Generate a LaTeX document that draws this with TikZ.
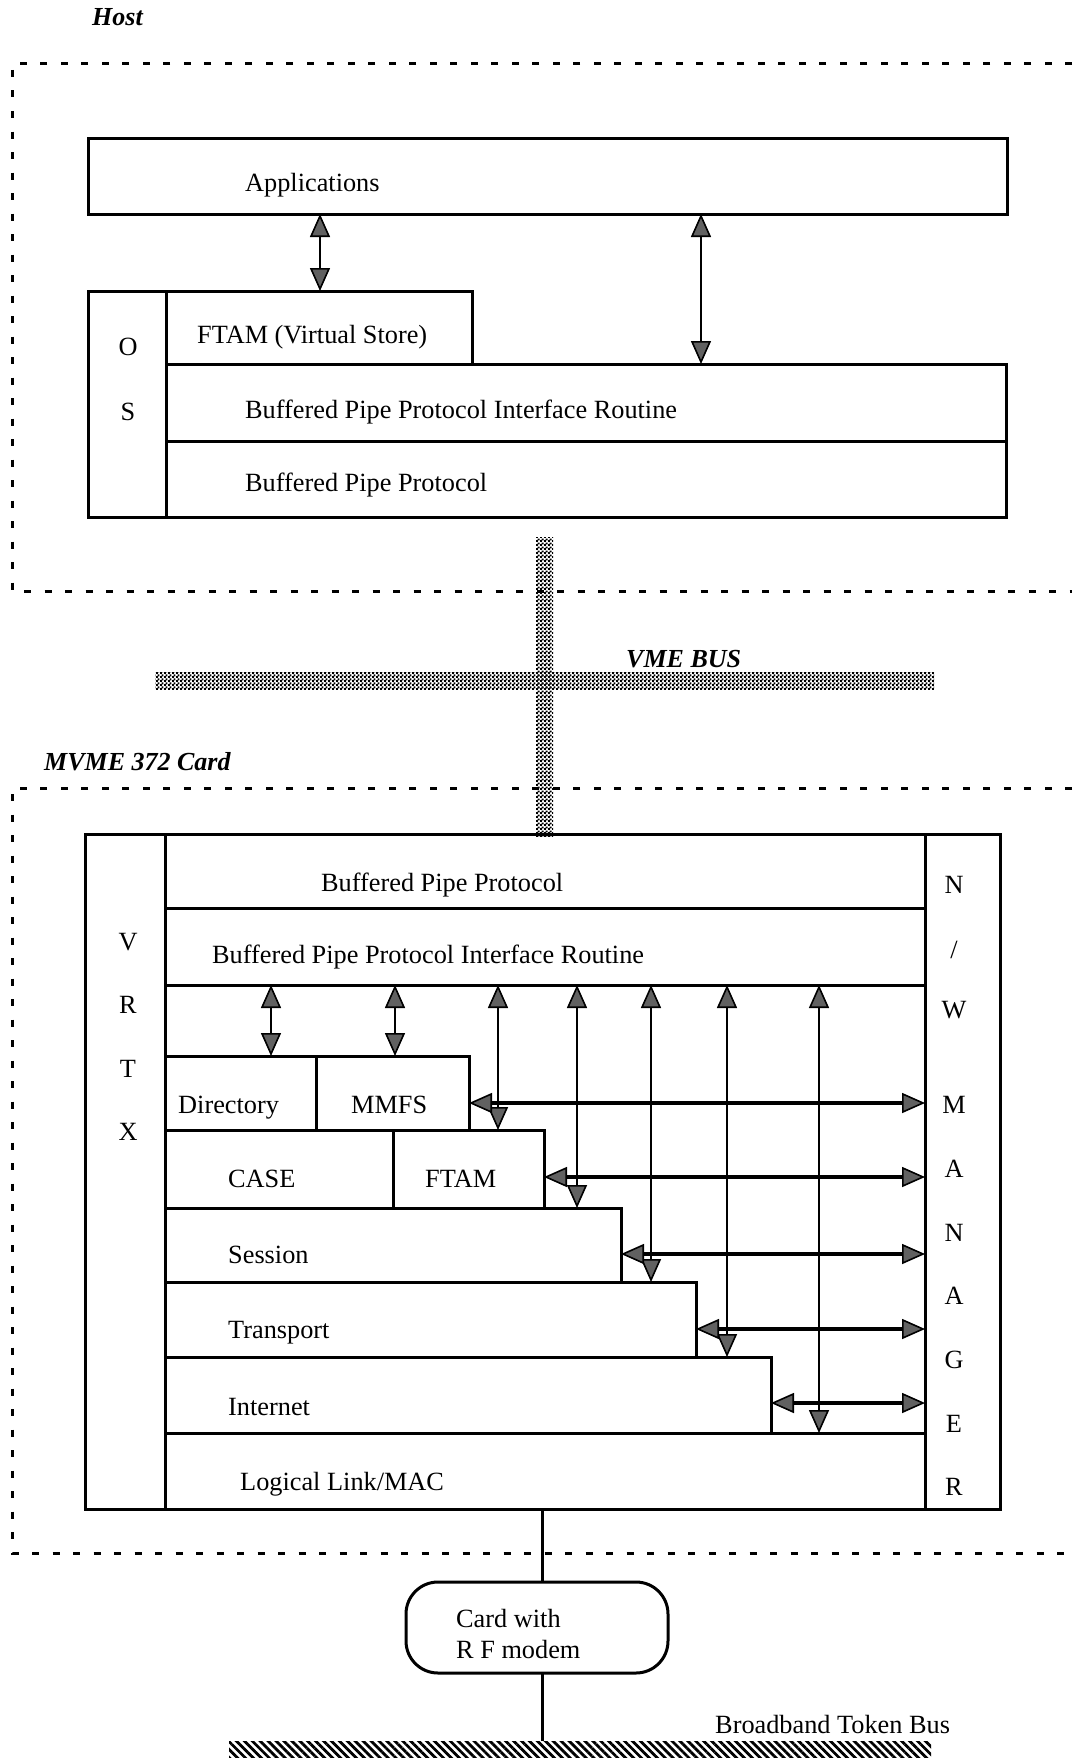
\documentclass[tikz,border=0pt]{standalone}
\usepackage{fontspec}
\setmainfont{Liberation Serif}
\usetikzlibrary{arrows.meta,patterns,patterns.meta}

% fine checkerboard used for the VME bus bars
\pgfdeclarepatternformonly{fineCheck}{\pgfqpoint{0pt}{0pt}}{\pgfqpoint{4pt}{4pt}}{\pgfqpoint{4pt}{4pt}}{%
  \pgfpathrectangle{\pgfqpoint{0pt}{0pt}}{\pgfqpoint{2.2pt}{2.2pt}}%
  \pgfpathrectangle{\pgfqpoint{2pt}{2pt}}{\pgfqpoint{2.2pt}{2.2pt}}%
  \pgfusepath{fill}}

% a layer box given by its corners (x1,y1) and (x2,y2)
\newcommand\layerbox[5]{\node[box, minimum width={#4-#2}, minimum height={#5-#3}] (#1) at (#2,#3) {};}

\tikzset{
  box/.style={draw, line width=3pt, inner sep=0pt, outer sep=0pt, anchor=north west},
  lbl/.style={anchor=base west, inner sep=0pt},
  ltr/.style={anchor=base, inner sep=0pt},
  ttl/.style={anchor=base west, inner sep=0pt, font=\fontsize{26}{31}\selectfont\bfseries\itshape},
  zone/.style={line width=3pt, dash pattern=on 7pt off 13.5pt},
  headtip/.tip={Triangle[length=23pt, width=20pt, fill=black!62, line width=1.6pt]},
  dbl/.style={line width=2.2pt, headtip-headtip},
  dblh/.style={dbl, line width=3.2pt},
  vmebar/.style={inner sep=0pt, outer sep=0pt, anchor=north west, pattern=fineCheck, pattern color=black},
  hatchbar/.style={inner sep=0pt, outer sep=0pt, anchor=north west, pattern={Lines[angle=-45, distance=5.6pt, line width=2.8pt]}},
  link/.style={line width=3pt},
}

\begin{document}
\begin{tikzpicture}[x=1pt, y=-1pt, font=\fontsize{26.3}{31}\selectfont]
\useasboundingbox (0,0) rectangle (1072,1758);

% ---------- host ----------
\node[ttl] (thost) at (92,26) {Host};
\draw[zone] (1072,64) -- (12,64) -- (12,591) -- (1072,591);

\layerbox{apps}{88}{139}{1007}{214}
\layerbox{os}{88}{291}{166}{517}
\layerbox{hftam}{166}{291}{472}{364}
\layerbox{hbppir}{166}{364}{1006}{441}
\layerbox{hbpp}{166}{441}{1006}{517}

\node[lbl] (tapps) at (245,191) {Applications};
\node[ltr] (tos1) at (128,355) {O};
\node[ltr] (tos2) at (128,420) {S};
\node[lbl] (thftam) at (197,343) {FTAM (Virtual Store)};
\node[lbl] (thbppir) at (245,418) {Buffered Pipe Protocol Interface Routine};
\node[lbl] (thbpp) at (245,491) {Buffered Pipe Protocol};

\coordinate (ha) at (320,0);
\coordinate (hb) at (701,0);
\draw[dbl] (ha |- apps.south) -- (ha |- hftam.north);
\draw[dbl] (hb |- apps.south) -- (hb |- hbppir.north);

% ---------- card frame ----------
\node[ttl] (tcard) at (44,770) {MVME 372 Card};
\draw[zone] (1072,788) -- (12,788) -- (12,1553) -- (1072,1553);

% ---------- VME bus ----------
\node[vmebar, minimum width=17, minimum height=299] (vmestub) at (536,537) {};
\node[vmebar, minimum width=779, minimum height=17] (vmebus) at (155,672) {};
\node[ttl] (tvme) at (626,667) {VME BUS};

% ---------- card stack ----------
\layerbox{vrtx}{85}{834}{165}{1509}
\layerbox{nwm}{925}{834}{1000}{1509}
\layerbox{cbpp}{165}{834}{925}{908}
\layerbox{cbppir}{165}{908}{925}{985}
\layerbox{dir}{165}{1056}{316}{1130}
\layerbox{mmfs}{316}{1056}{469}{1130}
\layerbox{case}{165}{1130}{393}{1208}
\layerbox{ftam}{393}{1130}{544}{1208}
\layerbox{sess}{165}{1208}{621}{1282}
\layerbox{trans}{165}{1282}{696}{1357}
\layerbox{inet}{165}{1357}{771}{1433}
\layerbox{llc}{165}{1433}{925}{1509}

\node[lbl] (tcbpp) at (321,891) {Buffered Pipe Protocol};
\node[lbl] (tcbppir) at (212,963) {Buffered Pipe Protocol Interface Routine};
\node[lbl] (tdir) at (178,1113) {Directory};
\node[lbl] (tmmfs) at (351,1113) {MMFS};
\node[lbl] (tcase) at (228,1187) {CASE};
\node[lbl] (tftam) at (425,1187) {FTAM};
\node[lbl] (tsess) at (228,1263) {Session};
\node[lbl] (ttrans) at (228,1338) {Transport};
\node[lbl] (tinet) at (228,1415) {Internet};
\node[lbl] (tllc) at (240,1490) {Logical Link/MAC};

% side columns
\foreach \c/\y [count=\i] in {V/950, R/1013, T/1077, X/1140}
  \node[ltr] (tv\i) at (128,\y) {\c};
\foreach \c/\y [count=\i] in {N/893, {/}/958, W/1018, M/1113, A/1177, N/1241, A/1304, G/1368, E/1432, R/1495}
  \node[ltr] (tn\i) at (954,\y) {\c};

% vertical links down from the interface routine
\foreach \n/\x in {c1/271, c2/395, c3/498, c4/577, c5/651, c6/727, c7/819}
  \coordinate (\n) at (\x,0);
\draw[dbl] (c1 |- cbppir.south) -- (c1 |- dir.north);
\draw[dbl] (c2 |- cbppir.south) -- (c2 |- mmfs.north);
\draw[dbl] (c3 |- cbppir.south) -- (c3 |- ftam.north);
\draw[dbl] (c4 |- cbppir.south) -- (c4 |- sess.north);
\draw[dbl] (c5 |- cbppir.south) -- (c5 |- trans.north);
\draw[dbl] (c6 |- cbppir.south) -- (c6 |- inet.north);
\draw[dbl] (c7 |- cbppir.south) -- (c7 |- llc.north);

% horizontal links to the network manager
\foreach \n/\y in {r1/1103, r2/1177, r3/1254, r4/1329, r5/1403}
  \coordinate (\n) at (0,\y);
\draw[dblh] (mmfs.east |- r1) -- (nwm.west |- r1);
\draw[dblh] (ftam.east |- r2) -- (nwm.west |- r2);
\draw[dblh] (sess.east |- r3) -- (nwm.west |- r3);
\draw[dblh] (trans.east |- r4) -- (nwm.west |- r4);
\draw[dblh] (inet.east |- r5) -- (nwm.west |- r5);

% ---------- modem and token bus ----------
\node[draw, line width=3pt, rounded corners=32pt, inner sep=0pt, outer sep=0pt, anchor=north west,
      minimum width=262, minimum height=91] (modem) at (406,1582) {};
\node[lbl] (tmod1) at (456,1627) {Card with};
\node[lbl] (tmod2) at (456,1658) {R F modem};

\node[hatchbar, minimum width=702, minimum height=17] (tbus) at (229,1741) {};
\node[lbl] (ttbus) at (715,1733) {Broadband Token Bus};

\coordinate (mlink) at (542,0);
\draw[link] (mlink |- llc.south) -- (mlink |- modem.north);
\draw[link] (mlink |- modem.south) -- (mlink |- tbus.north);
\end{tikzpicture}
\end{document}
